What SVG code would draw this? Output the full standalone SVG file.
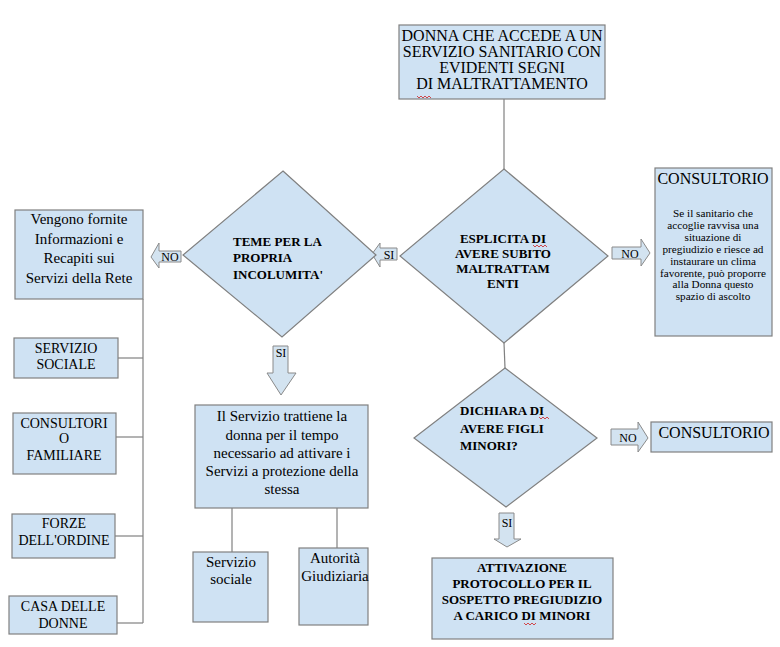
<svg xmlns="http://www.w3.org/2000/svg" width="780" height="647" viewBox="0 0 780 647" font-family="'Liberation Serif', 'DejaVu Serif', 'Times New Roman', serif">
<style>
.box{fill:#cfe2f3;stroke:#808080;stroke-width:1.2}
.arr{fill:#d3e3f0;stroke:#8a8a8a;stroke-width:1}
.ln{stroke:#808080;stroke-width:1.2;fill:none}
text{font-family:'Liberation Serif','DejaVu Serif',serif;fill:#000;text-anchor:middle}
.b{font-weight:bold}
.s{text-anchor:start}
.sq{stroke:#d02020;stroke-width:0.8;fill:none}
</style>
<rect width="780" height="647" fill="#fff"/>
<g id="connectors">
<line class="ln" x1="504" y1="99" x2="504" y2="169"/>
<line class="ln" x1="504" y1="343" x2="505" y2="368"/>
<line class="ln" x1="143" y1="299" x2="143" y2="623"/>
<line class="ln" x1="118" y1="358" x2="143" y2="358"/>
<line class="ln" x1="116" y1="437" x2="143" y2="437"/>
<line class="ln" x1="115" y1="536" x2="143" y2="536"/>
<line class="ln" x1="117" y1="623" x2="143" y2="623"/>
<line class="ln" x1="232" y1="508" x2="232" y2="552"/>
<line class="ln" x1="337" y1="508" x2="337" y2="548"/>
<g id="arrow-no-left"><polygon class="arr" points="151,257 159,243 159,251 181,251 181,262 159,262 159,268"/><text x="170" y="261" font-size="12">NO</text></g>
<g id="arrow-si-mid"><polygon class="arr" points="372,254 380,243 380,248 397,248 397,260 380,260 380,267"/><text x="389" y="259" font-size="12">SI</text></g>
<g id="arrow-no-right"><polygon class="arr" points="612,247 641,247 641,239 650,253 641,266 641,259 612,259"/><text x="630" y="258" font-size="12">NO</text></g>
<g id="arrow-si-down1"><polygon class="arr" points="273,346 288,346 288,373 296,373 281,395 267,373 273,373"/><text x="281" y="357" font-size="12">SI</text></g>
<g id="arrow-no-low"><polygon class="arr" points="611,429 638,429 638,422 648,438 638,452 638,445 611,445"/><text x="628" y="442" font-size="12">NO</text></g>
<g id="arrow-si-down2"><polygon class="arr" points="499,513 514,513 514,539 521,539 507,547 494,539 499,539"/><text x="507" y="527" font-size="12">SI</text></g>
</g>
<g id="n-start">
<rect class="box" x="399" y="25" width="206" height="74"/>
<text x="502" y="41" font-size="16">DONNA CHE ACCEDE A UN</text>
<text x="502" y="57" font-size="16">SERVIZIO SANITARIO CON</text>
<text x="502" y="73" font-size="16">EVIDENTI SEGNI</text>
<text x="502" y="89" font-size="16">DI MALTRATTAMENTO</text>
<path class="sq" d="M417,96 l2,2 l2,-2 l2,2 l2,-2 l2,2 l2,-2 l2,2"/>
</g>
<g id="n-esplicita">
<polygon class="box" points="504,169 608,256 504,343 400,256"/>
<text class="b" x="503" y="243" font-size="13">ESPLICITA DI</text>
<text class="b" x="503" y="258" font-size="13">AVERE SUBITO</text>
<text class="b" x="503" y="273" font-size="13">MALTRATTAM</text>
<text class="b" x="503" y="288" font-size="13">ENTI</text>
<path class="sq" d="M533,245 l2,2 l2,-2 l2,2 l2,-2 l2,2 l2,-2 l2,2"/>
</g>
<g id="n-teme">
<polygon class="box" points="283,171 376,255 282,337 183,255"/>
<text class="b s" x="233" y="246" font-size="13">TEME PER LA</text>
<text class="b s" x="233" y="262" font-size="13">PROPRIA</text>
<text class="b s" x="233" y="279" font-size="13">INCOLUMITA'</text>
</g>
<g id="n-consultorio1">
<rect class="box" x="655" y="168" width="117" height="168"/>
<text x="713" y="184" font-size="16">CONSULTORIO</text>
<text x="713" y="217" font-size="11.2">Se il sanitario che</text>
<text x="713" y="229" font-size="11.2">accoglie ravvisa una</text>
<text x="713" y="241" font-size="11.2">situazione di</text>
<text x="713" y="253" font-size="11.2">pregiudizio e riesce ad</text>
<text x="713" y="265" font-size="11.2">instaurare un clima</text>
<text x="713" y="277" font-size="11.2">favorente, può proporre</text>
<text x="713" y="288" font-size="11.2">alla Donna questo</text>
<text x="713" y="300" font-size="11.2">spazio di ascolto</text>
</g>
<g id="n-vengono">
<rect class="box" x="15" y="210" width="128" height="89"/>
<text x="79" y="224" font-size="15">Vengono fornite</text>
<text x="79" y="244" font-size="15">Informazioni e</text>
<text x="79" y="263" font-size="15">Recapiti sui</text>
<text x="79" y="283" font-size="15">Servizi della Rete</text>
</g>
<g id="n-servizio-sociale">
<rect class="box" x="14" y="338" width="104" height="40"/>
<text x="66" y="353" font-size="14">SERVIZIO</text>
<text x="66" y="369" font-size="14">SOCIALE</text>
</g>
<g id="n-consultorio-familiare">
<rect class="box" x="13" y="413" width="103" height="61"/>
<text x="64" y="428" font-size="14">CONSULTORI</text>
<text x="64" y="443" font-size="14">O</text>
<text x="64" y="460" font-size="14">FAMILIARE</text>
</g>
<g id="n-forze">
<rect class="box" x="12" y="514" width="103" height="44"/>
<text x="64" y="528" font-size="14">FORZE</text>
<text x="64" y="545" font-size="14">DELL'ORDINE</text>
</g>
<g id="n-casa">
<rect class="box" x="9" y="596" width="108" height="38"/>
<text x="63" y="611" font-size="14">CASA DELLE</text>
<text x="63" y="628" font-size="14">DONNE</text>
</g>
<g id="n-trattiene">
<rect class="box" x="195" y="405" width="173" height="103"/>
<text x="282" y="421" font-size="15">Il Servizio trattiene la</text>
<text x="282" y="440" font-size="15">donna per il tempo</text>
<text x="282" y="458" font-size="15">necessario ad attivare i</text>
<text x="282" y="476" font-size="15">Servizi a protezione della</text>
<text x="282" y="494" font-size="15">stessa</text>
</g>
<g id="n-servizio-sociale2">
<rect class="box" x="193" y="552" width="75" height="70"/>
<text x="231" y="567" font-size="15">Servizio</text>
<text x="231" y="584" font-size="15">sociale</text>
</g>
<g id="n-autorita">
<rect class="box" x="299" y="548" width="69" height="77"/>
<text x="335" y="563" font-size="15">Autorità</text>
<text x="335" y="581" font-size="15">Giudiziaria</text>
</g>
<g id="n-dichiara">
<polygon class="box" points="505,368 597,438 506,507 414,438"/>
<text class="b s" x="460" y="415" font-size="13">DICHIARA DI</text>
<text class="b s" x="460" y="433" font-size="13">AVERE FIGLI</text>
<text class="b s" x="460" y="450" font-size="13">MINORI?</text>
<path class="sq" d="M539,417 l2,2 l2,-2 l2,2 l2,-2 l2,2"/>
</g>
<g id="n-consultorio2">
<rect class="box" x="651" y="422" width="121" height="30"/>
<text x="714" y="438" font-size="16">CONSULTORIO</text>
</g>
<g id="n-attivazione">
<rect class="box" x="432" y="558" width="181" height="81"/>
<text class="b" x="522" y="572" font-size="13">ATTIVAZIONE</text>
<text class="b" x="522" y="588" font-size="13">PROTOCOLLO PER IL</text>
<text class="b" x="522" y="604" font-size="13">SOSPETTO PREGIUDIZIO</text>
<text class="b" x="522" y="620" font-size="13">A CARICO DI MINORI</text>
<path class="sq" d="M524,623 l2,2 l2,-2 l2,2 l2,-2 l2,2 l2,-2"/>
</g>
</svg>
